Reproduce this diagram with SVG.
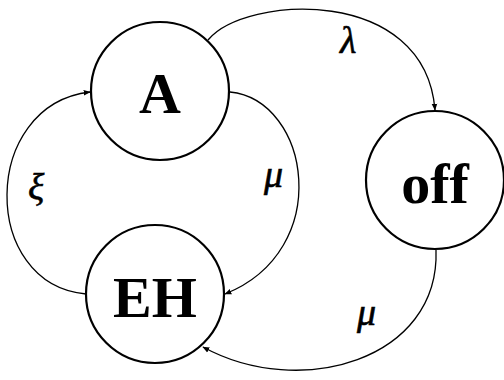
<svg xmlns="http://www.w3.org/2000/svg" width="504" height="380" viewBox="0 0 504 380">
<style>
.node{fill:#fff;stroke:#000;stroke-width:2.2}
.nl{font-family:"Liberation Serif",serif;font-weight:bold;font-size:58px;text-anchor:middle;fill:#000}
.el{fill:none;stroke:#000;stroke-width:1.3;marker-end:url(#ah)}
.lab{font-family:"Liberation Serif","DejaVu Serif",serif;font-style:italic;font-size:38px;fill:#000;stroke:#000;stroke-width:0.6}
</style>
<defs>
<marker id="ah" viewBox="0 0 10 10" refX="9" refY="5" markerWidth="7" markerHeight="7" markerUnits="userSpaceOnUse" orient="auto">
<path d="M0,1 L10,5 L0,9 Z" fill="#000"/>
</marker>
</defs>
<g id="connectors">
<path class="el" d="M208,40 C245,-5 425,-15 435,110"/>
<path class="el" d="M230,92 C310,100 335,250 225,294"/>
<path class="el" d="M86,294 C-20,285 -20,105 90,92"/>
<path class="el" d="M436,250 C440,360 300,400 203,347"/>
<text class="lab" x="340" y="53">λ</text>
<text class="lab" x="264" y="187">μ</text>
<text class="lab" x="28" y="200">ξ</text>
<text class="lab" x="357" y="325">μ</text>
</g>
<g id="A">
<circle class="node" cx="160" cy="91" r="69"/>
<text class="nl" x="160" y="113">A</text>
</g>
<g id="EH">
<circle class="node" cx="155" cy="294" r="69"/>
<text class="nl" x="155" y="317">EH</text>
</g>
<g id="off">
<circle class="node" cx="435" cy="180" r="69"/>
<text class="nl" x="435" y="203">off</text>
</g>
</svg>
